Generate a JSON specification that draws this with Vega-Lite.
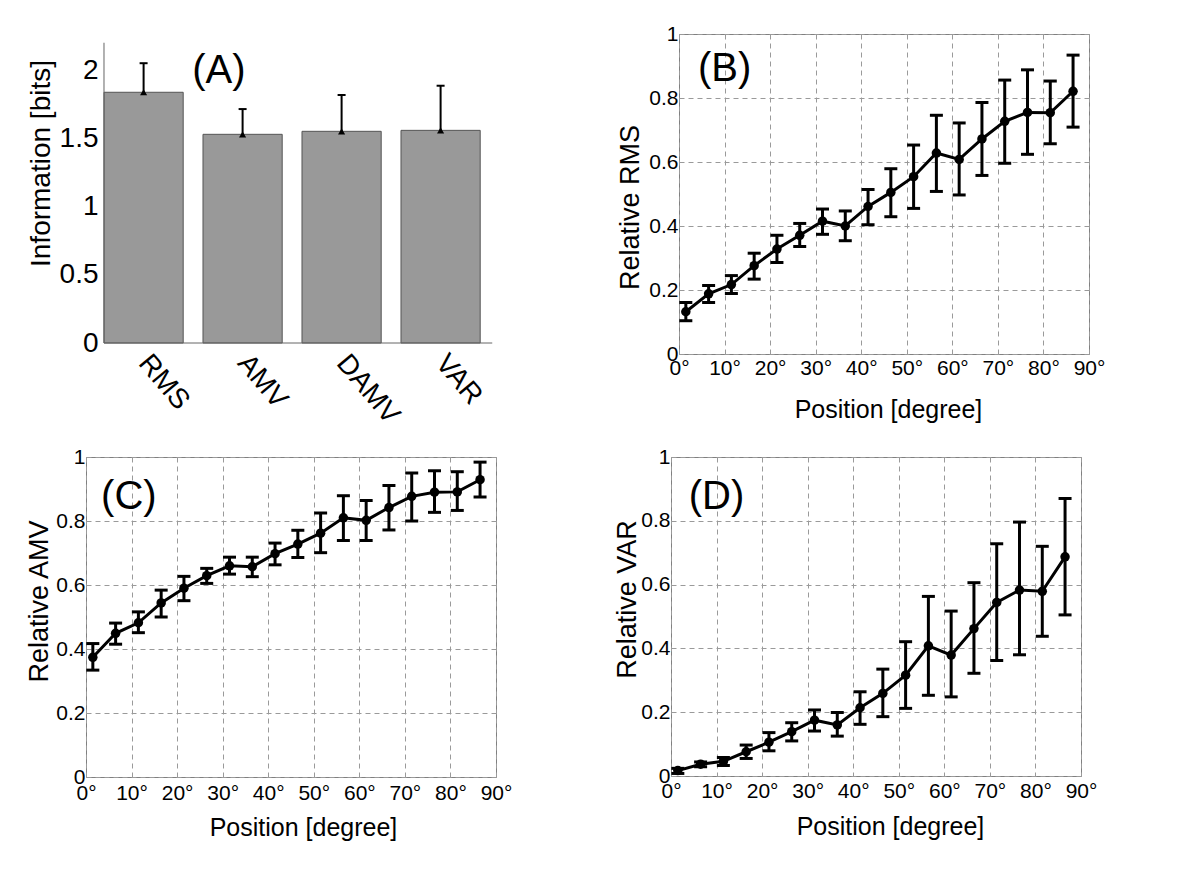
{
  "$schema": "https://vega.github.io/schema/vega-lite/v6.json",
  "padding": {"left": 25, "top": 22, "right": 5, "bottom": 5},
  "background": "white",
  "datasets": {
    "info": [
      {"measure": "RMS", "info": 1.837, "upper": 2.05},
      {"measure": "AMV", "info": 1.529, "upper": 1.714},
      {"measure": "DAMV", "info": 1.551, "upper": 1.817},
      {"measure": "VAR", "info": 1.558, "upper": 1.885}
    ],
    "rms": [
      {"pos": 1.5, "mean": 0.132, "lo": 0.104, "hi": 0.161},
      {"pos": 6.5, "mean": 0.188, "lo": 0.161, "hi": 0.214},
      {"pos": 11.5, "mean": 0.217, "lo": 0.189, "hi": 0.245},
      {"pos": 16.5, "mean": 0.276, "lo": 0.234, "hi": 0.315},
      {"pos": 21.5, "mean": 0.328, "lo": 0.286, "hi": 0.371},
      {"pos": 26.5, "mean": 0.371, "lo": 0.336, "hi": 0.408},
      {"pos": 31.5, "mean": 0.415, "lo": 0.374, "hi": 0.453},
      {"pos": 36.5, "mean": 0.400, "lo": 0.354, "hi": 0.447},
      {"pos": 41.5, "mean": 0.461, "lo": 0.404, "hi": 0.514},
      {"pos": 46.5, "mean": 0.505, "lo": 0.429, "hi": 0.579},
      {"pos": 51.5, "mean": 0.554, "lo": 0.455, "hi": 0.653},
      {"pos": 56.5, "mean": 0.628, "lo": 0.508, "hi": 0.746},
      {"pos": 61.5, "mean": 0.608, "lo": 0.497, "hi": 0.722},
      {"pos": 66.5, "mean": 0.672, "lo": 0.558, "hi": 0.786},
      {"pos": 71.5, "mean": 0.727, "lo": 0.596, "hi": 0.856},
      {"pos": 76.5, "mean": 0.755, "lo": 0.624, "hi": 0.888},
      {"pos": 81.5, "mean": 0.754, "lo": 0.657, "hi": 0.853},
      {"pos": 86.5, "mean": 0.821, "lo": 0.709, "hi": 0.934}
    ],
    "amv": [
      {"pos": 1.5, "mean": 0.374, "lo": 0.334, "hi": 0.417},
      {"pos": 6.5, "mean": 0.449, "lo": 0.415, "hi": 0.481},
      {"pos": 11.5, "mean": 0.482, "lo": 0.451, "hi": 0.516},
      {"pos": 16.5, "mean": 0.544, "lo": 0.500, "hi": 0.584},
      {"pos": 21.5, "mean": 0.590, "lo": 0.551, "hi": 0.627},
      {"pos": 26.5, "mean": 0.629, "lo": 0.605, "hi": 0.652},
      {"pos": 31.5, "mean": 0.660, "lo": 0.634, "hi": 0.687},
      {"pos": 36.5, "mean": 0.657, "lo": 0.626, "hi": 0.687},
      {"pos": 41.5, "mean": 0.698, "lo": 0.663, "hi": 0.731},
      {"pos": 46.5, "mean": 0.728, "lo": 0.686, "hi": 0.771},
      {"pos": 51.5, "mean": 0.762, "lo": 0.701, "hi": 0.825},
      {"pos": 56.5, "mean": 0.810, "lo": 0.739, "hi": 0.879},
      {"pos": 61.5, "mean": 0.802, "lo": 0.739, "hi": 0.864},
      {"pos": 66.5, "mean": 0.842, "lo": 0.772, "hi": 0.911},
      {"pos": 71.5, "mean": 0.877, "lo": 0.800, "hi": 0.950},
      {"pos": 76.5, "mean": 0.890, "lo": 0.827, "hi": 0.957},
      {"pos": 81.5, "mean": 0.891, "lo": 0.833, "hi": 0.954},
      {"pos": 86.5, "mean": 0.929, "lo": 0.875, "hi": 0.984}
    ],
    "var": [
      {"pos": 1.5, "mean": 0.017, "lo": 0.008, "hi": 0.024},
      {"pos": 6.5, "mean": 0.037, "lo": 0.029, "hi": 0.044},
      {"pos": 11.5, "mean": 0.046, "lo": 0.033, "hi": 0.058},
      {"pos": 16.5, "mean": 0.076, "lo": 0.055, "hi": 0.097},
      {"pos": 21.5, "mean": 0.106, "lo": 0.079, "hi": 0.136},
      {"pos": 26.5, "mean": 0.139, "lo": 0.110, "hi": 0.167},
      {"pos": 31.5, "mean": 0.175, "lo": 0.141, "hi": 0.207},
      {"pos": 36.5, "mean": 0.160, "lo": 0.125, "hi": 0.199},
      {"pos": 41.5, "mean": 0.214, "lo": 0.162, "hi": 0.264},
      {"pos": 46.5, "mean": 0.259, "lo": 0.186, "hi": 0.335},
      {"pos": 51.5, "mean": 0.316, "lo": 0.212, "hi": 0.421},
      {"pos": 56.5, "mean": 0.408, "lo": 0.253, "hi": 0.563},
      {"pos": 61.5, "mean": 0.379, "lo": 0.248, "hi": 0.517},
      {"pos": 66.5, "mean": 0.462, "lo": 0.322, "hi": 0.606},
      {"pos": 71.5, "mean": 0.544, "lo": 0.362, "hi": 0.728},
      {"pos": 76.5, "mean": 0.583, "lo": 0.380, "hi": 0.796},
      {"pos": 81.5, "mean": 0.579, "lo": 0.438, "hi": 0.720},
      {"pos": 86.5, "mean": 0.687, "lo": 0.505, "hi": 0.870}
    ]
  },
  "align": "none",
  "spacing": 16,
  "vconcat": [
    {
      "spacing": 123,
      "hconcat": [
        {
          "width": 406,
          "height": 309,
          "view": {"stroke": null},
          "data": {"name": "info"},
          "layer": [
            {
              "mark": {"type": "bar", "color": "#999999", "stroke": "#555555", "strokeWidth": 1},
              "encoding": {
                "x": {"field": "measure", "type": "nominal", "sort": null,
                  "scale": {"paddingInner": 0.2, "paddingOuter": 0.1505, "align": 0.604},
                  "axis": {"title": null, "labelAngle": 50, "labelAlign": "left", "labelBaseline": "middle", "labelPadding": 15, "labelFontSize": 28, "labelFont": "Liberation Sans", "domain": false, "ticks": false, "grid": false}},
                "y": {"field": "info", "type": "quantitative",
                  "scale": {"domain": [0, 2.264], "nice": false, "zero": true},
                  "axis": {"values": [0, 0.5, 1, 1.5, 2], "format": "~g", "title": "Information [bits]", "titleFontSize": 28, "titleY": 129, "labelFontSize": 28, "labelPadding": 6, "titlePadding": 4, "offset": -18, "grid": false, "domain": false, "ticks": false}}
              }
            },
            {
              "mark": {"type": "rule", "strokeWidth": 2, "color": "black"},
              "encoding": {
                "x": {"field": "measure", "type": "nominal", "sort": null},
                "y": {"field": "info", "type": "quantitative"},
                "y2": {"field": "upper"}
              }
            },
            {
              "mark": {"type": "tick", "orient": "horizontal", "size": 8, "thickness": 2, "color": "black", "opacity": 1},
              "encoding": {
                "x": {"field": "measure", "type": "nominal", "sort": null},
                "y": {"field": "upper", "type": "quantitative"}
              }
            },
            {
              "mark": {"type": "point", "shape": "triangle-up", "filled": true, "size": 50, "color": "black", "opacity": 1},
              "encoding": {
                "x": {"field": "measure", "type": "nominal", "sort": null},
                "y": {"field": "info", "type": "quantitative"}
              }
            },
            {
              "data": {"values": [{}]},
              "mark": {"type": "rule", "color": "#666666", "strokeWidth": 1},
              "encoding": {
                "x": {"datum": "RMS", "bandPosition": 0},
                "y": {"datum": 0},
                "y2": {"datum": 2.2}
              }
            },
            {
              "data": {"values": [{}]},
              "mark": {"type": "rule", "color": "#666666", "strokeWidth": 1},
              "encoding": {
                "x": {"datum": "RMS", "bandPosition": 0},
                "x2": {"datum": "VAR", "bandPosition": 1.152},
                "y": {"datum": 0}
              }
            },
            {
              "data": {"values": [{}]},
              "mark": {"type": "text", "fontSize": 40, "font": "Liberation Sans", "color": "black"},
              "encoding": {
                "x": {"datum": "AMV", "bandPosition": 0.2},
                "y": {"datum": 1.99},
                "text": {"value": "(A)"}
              }
            }
          ]
        },
        {
          "width": 410,
          "height": 320,
          "data": {"name": "rms"},
          "layer": [
            {"mark": {"type": "rule", "strokeWidth": 3, "color": "black"},
             "encoding": {
               "x": {"field": "pos", "type": "quantitative",
                 "scale": {"domain": [0, 90], "nice": false},
                 "axis": {"values": [0, 10, 20, 30, 40, 50, 60, 70, 80, 90], "labelExpr": "datum.value + '°'", "title": "Position [degree]", "titleFontSize": 25, "titleX": 209, "labelPadding": 3, "titlePadding": 19, "grid": true}},
               "y": {"field": "lo", "type": "quantitative",
                 "scale": {"domain": [0, 1], "nice": false},
                 "axis": {"values": [0, 0.2, 0.4, 0.6, 0.8, 1], "format": "~g", "title": "Relative RMS", "titleFontSize": 27, "titleY": 173, "labelPadding": 1, "titlePadding": 4, "grid": true}},
               "y2": {"field": "hi"}}},
            {"mark": {"type": "tick", "orient": "horizontal", "size": 13, "thickness": 3, "color": "black", "opacity": 1},
             "encoding": {"x": {"field": "pos", "type": "quantitative"}, "y": {"field": "lo", "type": "quantitative"}}},
            {"mark": {"type": "tick", "orient": "horizontal", "size": 13, "thickness": 3, "color": "black", "opacity": 1},
             "encoding": {"x": {"field": "pos", "type": "quantitative"}, "y": {"field": "hi", "type": "quantitative"}}},
            {"mark": {"type": "line", "strokeWidth": 3, "color": "black"},
             "encoding": {"x": {"field": "pos", "type": "quantitative"}, "y": {"field": "mean", "type": "quantitative"}}},
            {"mark": {"type": "circle", "size": 90, "color": "black", "opacity": 1},
             "encoding": {"x": {"field": "pos", "type": "quantitative"}, "y": {"field": "mean", "type": "quantitative"}}},
            {"data": {"values": [{}]},
             "mark": {"type": "text", "fontSize": 40, "font": "Liberation Sans", "color": "black"},
             "encoding": {"x": {"datum": 10}, "y": {"datum": 0.89}, "text": {"value": "(B)"}}}
          ]
        }
      ]
    },
    {
      "spacing": 100,
      "hconcat": [
        {
          "width": 410,
          "height": 320,
          "data": {"name": "amv"},
          "layer": [
            {"mark": {"type": "rule", "strokeWidth": 3, "color": "black"},
             "encoding": {
               "x": {"field": "pos", "type": "quantitative",
                 "scale": {"domain": [0, 90], "nice": false},
                 "axis": {"values": [0, 10, 20, 30, 40, 50, 60, 70, 80, 90], "labelExpr": "datum.value + '°'", "title": "Position [degree]", "titleFontSize": 25, "titleX": 217, "labelPadding": 5, "titlePadding": 12, "grid": true}},
               "y": {"field": "lo", "type": "quantitative",
                 "scale": {"domain": [0, 1], "nice": false},
                 "axis": {"values": [0, 0.2, 0.4, 0.6, 0.8, 1], "format": "~g", "title": "Relative AMV", "titleFontSize": 27, "titleY": 144, "labelPadding": 1, "titlePadding": 2, "grid": true}},
               "y2": {"field": "hi"}}},
            {"mark": {"type": "tick", "orient": "horizontal", "size": 13, "thickness": 3, "color": "black", "opacity": 1},
             "encoding": {"x": {"field": "pos", "type": "quantitative"}, "y": {"field": "lo", "type": "quantitative"}}},
            {"mark": {"type": "tick", "orient": "horizontal", "size": 13, "thickness": 3, "color": "black", "opacity": 1},
             "encoding": {"x": {"field": "pos", "type": "quantitative"}, "y": {"field": "hi", "type": "quantitative"}}},
            {"mark": {"type": "line", "strokeWidth": 3, "color": "black"},
             "encoding": {"x": {"field": "pos", "type": "quantitative"}, "y": {"field": "mean", "type": "quantitative"}}},
            {"mark": {"type": "circle", "size": 90, "color": "black", "opacity": 1},
             "encoding": {"x": {"field": "pos", "type": "quantitative"}, "y": {"field": "mean", "type": "quantitative"}}},
            {"data": {"values": [{}]},
             "mark": {"type": "text", "fontSize": 40, "font": "Liberation Sans", "color": "black"},
             "encoding": {"x": {"datum": 9.4}, "y": {"datum": 0.875}, "text": {"value": "(C)"}}}
          ]
        },
        {
          "width": 410,
          "height": 319,
          "data": {"name": "var"},
          "layer": [
            {"mark": {"type": "rule", "strokeWidth": 3, "color": "black"},
             "encoding": {
               "x": {"field": "pos", "type": "quantitative",
                 "scale": {"domain": [0, 90], "nice": false},
                 "axis": {"values": [0, 10, 20, 30, 40, 50, 60, 70, 80, 90], "labelExpr": "datum.value + '°'", "title": "Position [degree]", "titleFontSize": 25, "titleX": 219, "labelPadding": 4, "titlePadding": 13, "grid": true}},
               "y": {"field": "lo", "type": "quantitative",
                 "scale": {"domain": [0, 1], "nice": false},
                 "axis": {"values": [0, 0.2, 0.4, 0.6, 0.8, 1], "format": "~g", "title": "Relative VAR", "titleFontSize": 27, "titleY": 142, "labelPadding": 1, "titlePadding": -1, "grid": true}},
               "y2": {"field": "hi"}}},
            {"mark": {"type": "tick", "orient": "horizontal", "size": 13, "thickness": 3, "color": "black", "opacity": 1},
             "encoding": {"x": {"field": "pos", "type": "quantitative"}, "y": {"field": "lo", "type": "quantitative"}}},
            {"mark": {"type": "tick", "orient": "horizontal", "size": 13, "thickness": 3, "color": "black", "opacity": 1},
             "encoding": {"x": {"field": "pos", "type": "quantitative"}, "y": {"field": "hi", "type": "quantitative"}}},
            {"mark": {"type": "line", "strokeWidth": 3, "color": "black"},
             "encoding": {"x": {"field": "pos", "type": "quantitative"}, "y": {"field": "mean", "type": "quantitative"}}},
            {"mark": {"type": "circle", "size": 90, "color": "black", "opacity": 1},
             "encoding": {"x": {"field": "pos", "type": "quantitative"}, "y": {"field": "mean", "type": "quantitative"}}},
            {"data": {"values": [{}]},
             "mark": {"type": "text", "fontSize": 40, "font": "Liberation Sans", "color": "black"},
             "encoding": {"x": {"datum": 10}, "y": {"datum": 0.875}, "text": {"value": "(D)"}}}
          ]
        }
      ]
    }
  ],
  "config": {
    "font": "Liberation Sans",
    "view": {"stroke": "#808080", "strokeWidth": 1},
    "axis": {
      "labelFont": "Liberation Sans",
      "labelFontSize": 21,
      "labelColor": "black",
      "titleColor": "black",
      "titleFont": "Liberation Sans",
      "titleFontWeight": "normal",
      "tickSize": 0,
      "ticks": false,
      "domain": false,
      "gridColor": "#9a9a9a",
      "gridDash": [5, 4],
      "gridWidth": 1,
      "labelFlush": false,
      "labelOverlap": false,
      "labelBound": false
    }
  }
}
